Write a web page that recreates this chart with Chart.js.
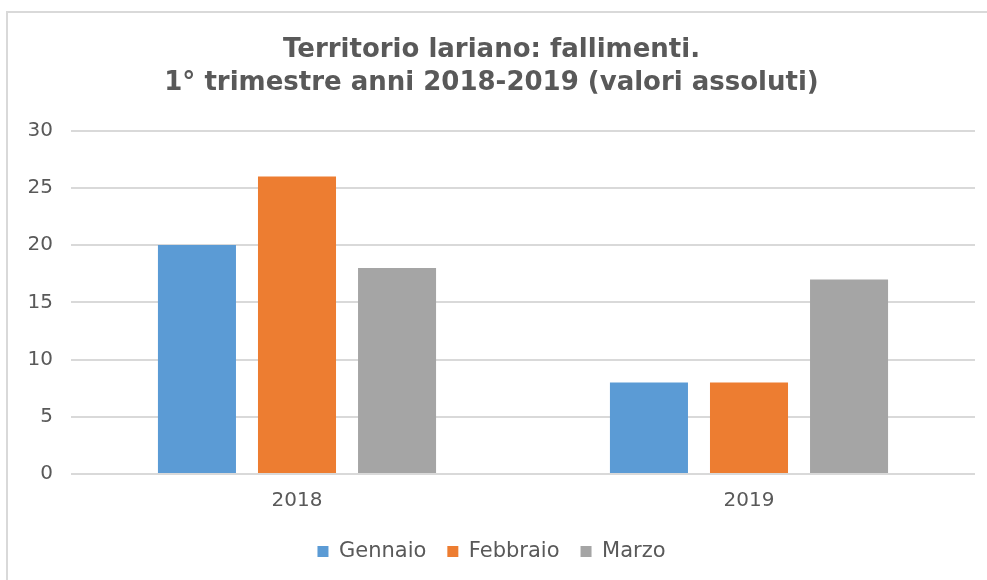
<!DOCTYPE html>
<html>
<head>
<meta charset="utf-8">
<script src="https://cdn.jsdelivr.net/npm/chart.js@4"></script>
<style>
  body { margin: 0; background: #fff; }
  #box {
    position: absolute; left: 6px; top: 11px; width: 981px; height: 569px;
    border-left: 2px solid #d9d9d9; border-top: 2px solid #d9d9d9;
  }
</style>
</head>
<body>
<div id="box"><canvas id="c" width="979" height="567"></canvas></div>
<script>
const anni = ['2018', '2019'];
const gennaio = [20, 8];
const febbraio = [26, 8];
const marzo = [18, 17];
const titolo = ['Territorio lariano: fallimenti.', '1° trimestre anni 2018-2019 (valori assoluti)'];

const ctx = document.getElementById('c').getContext('2d');
new Chart(ctx, {
  type: 'bar',
  data: {
    labels: anni,
    datasets: [
      { label: 'Gennaio', data: gennaio, backgroundColor: '#5b9bd5' },
      { label: 'Febbraio', data: febbraio, backgroundColor: '#ed7d31' },
      { label: 'Marzo', data: marzo, backgroundColor: '#a5a5a5' }
    ]
  },
  options: {
    responsive: false,
    animation: false,
    categoryPercentage: 0.664,
    barPercentage: 0.78,
    layout: { padding: { left: 0, right: 12, top: 20, bottom: 8 } },
    plugins: {
      title: {
        display: true,
        text: titolo,
        color: '#595959',
        font: { family: 'DejaVu Sans', size: 26, weight: 'bold', lineHeight: 1.3 },
        padding: { top: 0, bottom: 30 }
      },
      legend: {
        position: 'bottom',
        labels: {
          color: '#595959',
          font: { family: 'DejaVu Sans', size: 21 },
          boxWidth: 11, boxHeight: 11,
          padding: 21
        }
      },
      tooltip: { enabled: false }
    },
    scales: {
      x: {
        grid: { display: false },
        border: { display: false },
        ticks: { color: '#595959', font: { family: 'DejaVu Sans', size: 20 }, padding: 7 }
      },
      y: {
        min: 0, max: 30,
        ticks: { stepSize: 5, color: '#595959', font: { family: 'DejaVu Sans', size: 20 }, padding: 18 },
        grid: { color: '#d9d9d9', lineWidth: 2, drawTicks: false },
        border: { display: false },
        afterFit: function (s) { s.width = 63; }
      }
    }
  }
});
</script>
</body>
</html>
